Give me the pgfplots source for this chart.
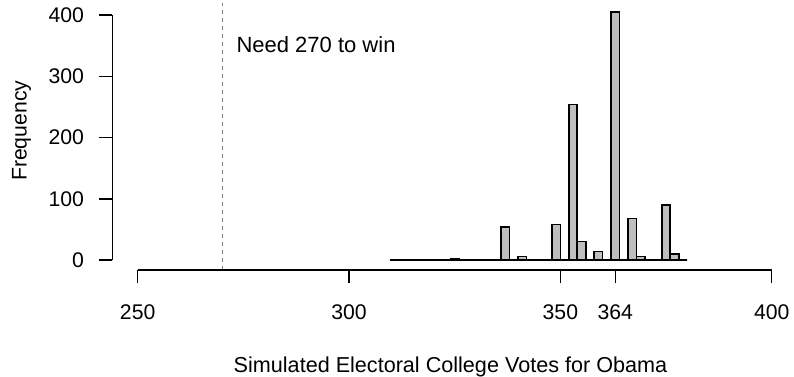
\documentclass[border=0pt]{standalone}
\usepackage{pgfplots}
\pgfplotsset{compat=1.18}
\usepackage{fontspec}
\setmainfont{Liberation Sans}

% Simulated electoral votes, bins of width 2 (left edge, count)
\pgfplotstableread{
left count
310 1
312 0
314 0
316 0
318 0
320 1
322 0
324 2
326 0
328 0
330 0
332 0
334 0
336 54
338 0
340 6
342 0
344 0
346 1
348 58
350 0
352 254
354 30
356 0
358 14
360 0
362 405
364 0
366 68
368 6
370 0
372 0
374 90
376 10
378 0
380 0
}\votes

\begin{document}
\begin{tikzpicture}
\begin{axis}[
  x=2.1135bp, y=0.30625bp,
  xmin=244, xmax=404, ymin=-16.33, ymax=420,
  axis x line*=bottom, axis y line*=left,
  axis line style={draw=none},
  clip=false,
  tick align=outside,
  major tick length=6.5bp,
  tick style={black, line width=0.75bp},
  xtick={250,300,350,363,400},
  xticklabels={250,300,350,364,400},
  ytick={0,100,200,300,400},
  /pgf/number format/assume math mode=true,
  every tick label/.append style={font=\fontsize{10.6bp}{13bp}\selectfont},
  xticklabel style={anchor=base, inner sep=0pt, yshift=-18.15bp},
  yticklabel style={anchor=east, inner sep=0pt, xshift=-7.5bp},
  xlabel={Simulated Electoral College Votes for Obama},
  ylabel={Frequency},
  xlabel style={at={(axis description cs:0.5,0)}, anchor=base, yshift=-51bp,
    inner sep=0pt, font=\fontsize{10.8bp}{13bp}\selectfont},
  ylabel style={at={(axis description cs:-0.1266,0.521)}, anchor=base,
    inner sep=0pt, font=\fontsize{10.6bp}{13bp}\selectfont},
]
% histogram bars
\addplot[ybar interval, fill={rgb,255:red,190;green,190;blue,190},
  draw=black, line width=0.8bp] table[x=left, y=count] {\votes};
% threshold line
\addplot[gray, line width=0.6bp, dash pattern=on 2bp off 2bp]
  coordinates {(270,-16.33) (270,420)};
\node[anchor=base west, inner sep=0pt, font=\fontsize{11bp}{13bp}\selectfont]
  at (axis cs:273.3,339) {Need 270 to win};
% R-style axis lines spanning the tick range
\draw[black, line width=0.75bp] (axis cs:244,0) -- (axis cs:244,400);
\draw[black, line width=0.75bp] (axis cs:250,-16.33) -- (axis cs:400,-16.33);
\end{axis}
\pgfresetboundingbox
\path (-56.15bp,-53.5bp) rectangle (340.85bp,135bp);
\end{tikzpicture}
\end{document}
